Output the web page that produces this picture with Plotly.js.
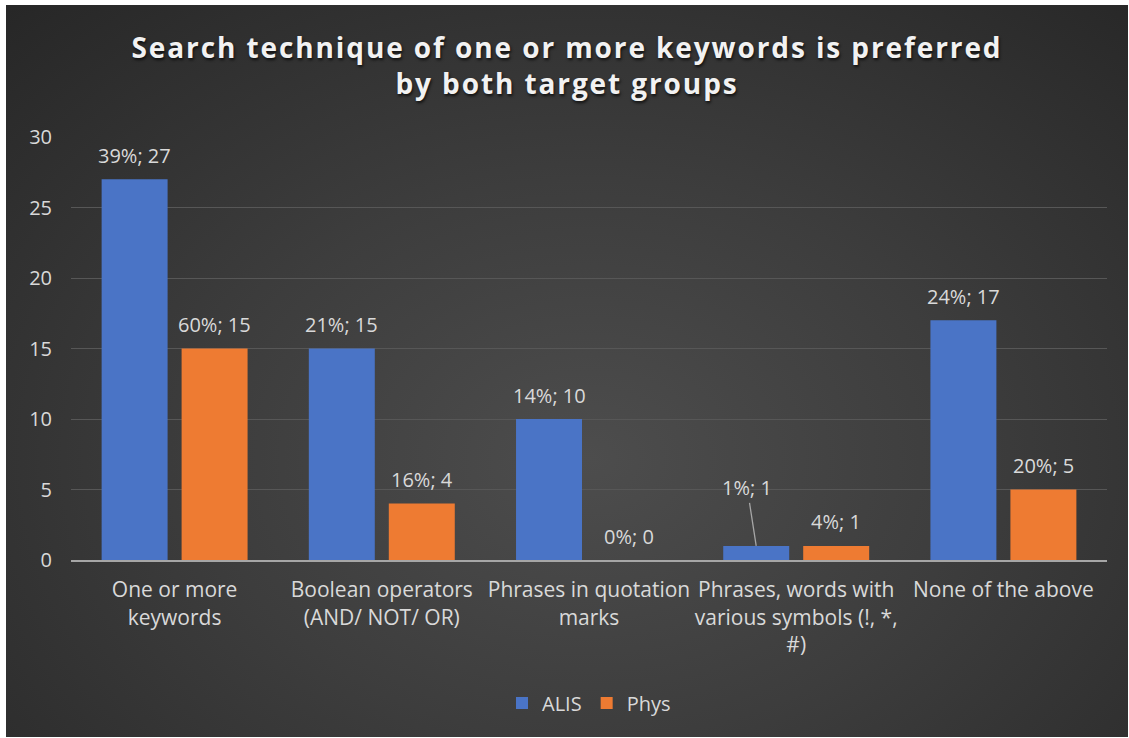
<!DOCTYPE html>
<html>
<head>
<meta charset="utf-8">
<script src="https://cdn.plot.ly/plotly-3.0.1.min.js"></script>
<style>
  html, body { margin: 0; padding: 0; background: #ffffff; }
  #chart {
    position: absolute; left: 6px; top: 5px; width: 1122px; height: 732px;
    background: radial-gradient(ellipse 75% 85% at 52% 62%, #4d4d4d 0%, #3d3d3d 45%, #272727 100%);
  }
  #chart .gtitle { letter-spacing: 1.9px; }
</style>
</head>
<body>
<div id="chart"></div>
<script>
const categories = [
  "One or more<br>keywords",
  "Boolean operators<br>(AND/ NOT/ OR)",
  "Phrases in quotation<br>marks",
  "Phrases, words with<br>various symbols (!, *,<br>#)",
  "None of the above"
];
const alisValues = [27, 15, 10, 1, 17];
const alisPercent = [39, 21, 14, 1, 24];
const physValues = [15, 4, 0, 1, 5];
const physPercent = [60, 16, 0, 4, 20];
const seriesNames = ["ALIS", "Phys"];
const titleText = "Search technique of one or more keywords is preferred<br>by both target groups";

const labelColor = "#d9d9d9";
const labelFont = { family: "Open Sans, sans-serif", size: 20, color: labelColor };
const tickFontX = { family: "Open Sans, sans-serif", size: 21, color: labelColor };

const traces = [
  { type: "bar", name: seriesNames[0], x: categories, y: alisValues,
    marker: { color: "#4a74c6" }, hoverinfo: "none" },
  { type: "bar", name: seriesNames[1], x: categories, y: physValues,
    marker: { color: "#ee7b32" }, hoverinfo: "none" }
];

const annotations = [];
function addLabels(values, pcts, shift) {
  values.forEach((v, i) => {
    const txt = pcts[i] + "%; " + v;
    const callout = (shift < 0 && i === 3);
    annotations.push({
      x: categories[i], y: v, xref: "x", yref: "y", text: txt,
      xshift: shift, font: labelFont,
      showarrow: callout, arrowhead: 0, arrowwidth: 1.3, arrowcolor: "#a6a6a6",
      ax: callout ? -9 : 0, ay: callout ? -58 : 0,
      yshift: callout ? 0 : 24, yanchor: callout ? "auto" : "middle"
    });
  });
}
addLabels(alisValues, alisPercent, -40);
addLabels(physValues, physPercent, 40);

const layout = {
  width: 1122, height: 732,
  paper_bgcolor: "rgba(0,0,0,0)", plot_bgcolor: "rgba(0,0,0,0)",
  margin: { l: 65, r: 21, t: 132, b: 177 },
  title: {
    text: titleText, x: 0.5, xanchor: "center", y: 0.928, yanchor: "middle", yref: "container",
    font: { family: "Open Sans, sans-serif", size: 28, weight: 700, color: "#f2f2f2",
            shadow: "1px 2px 3px rgba(0,0,0,0.7)" }
  },
  barmode: "group", bargap: 0.228, bargroupgap: 0.175,
  xaxis: {
    type: "category", showgrid: false, zeroline: false,
    showline: true, linecolor: "#a6a6a6", linewidth: 2,
    ticks: "", tickfont: tickFontX, ticklabelstandoff: 10
  },
  yaxis: {
    range: [0, 30], dtick: 5, showgrid: true, gridcolor: "#575757", gridwidth: 1,
    zeroline: false, showline: false, ticks: "", tickfont: labelFont, ticklabelstandoff: 18
  },
  showlegend: true,
  legend: {
    orientation: "h", x: 0.5, xanchor: "center", y: -0.338, yanchor: "middle",
    font: labelFont, bgcolor: "rgba(0,0,0,0)"
  },
  annotations: annotations
};

Plotly.newPlot("chart", traces, layout, { displayModeBar: false, staticPlot: true });
</script>
</body>
</html>
